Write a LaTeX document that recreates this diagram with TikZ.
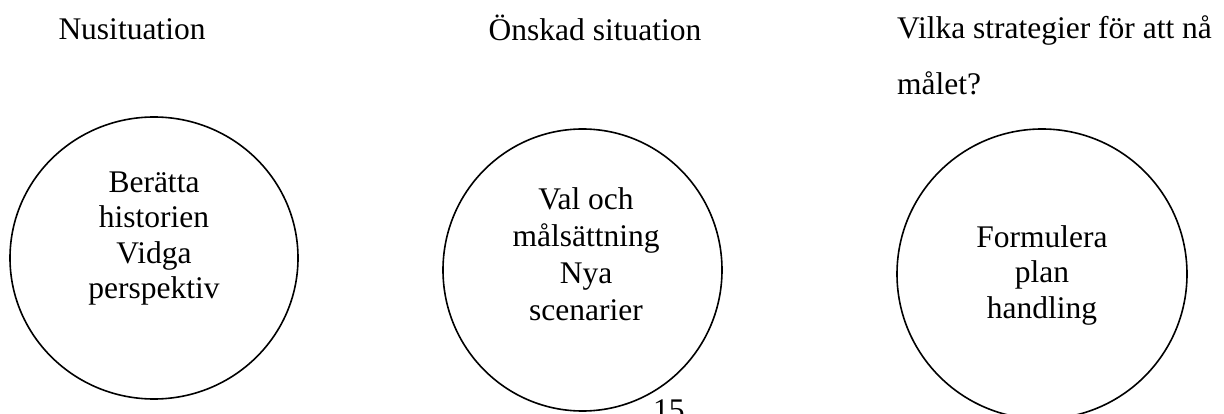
\documentclass[tikz,border=0pt]{standalone}
\usepackage{fontspec}
\setmainfont{Liberation Serif}
\usetikzlibrary{shapes.geometric}
\tikzset{
  ring/.style={draw, ellipse, line width=1.6pt, inner sep=0pt},
  txt/.style={inner sep=0pt, align=center, font=\fontsize{31.5}{35.5}\selectfont},
  head/.style={inner sep=0pt, font=\fontsize{31.5}{56}\selectfont},
}
\begin{document}
\begin{tikzpicture}[x=1pt, y=-1pt]
\useasboundingbox (0,0) rectangle (1224,414);
\node[ring, minimum width=288pt, minimum height=282pt] (c1) at (154,258) {};
\node[ring, minimum width=279pt, minimum height=282pt] (c2) at (582.5,270) {};
\node[ring, minimum width=290pt, minimum height=290pt] (c3) at (1042,274) {};
\node[head, anchor=base] (h1) at (132,40) {Nusituation};
\node[head, anchor=base] (h2) at (595,41) {Önskad situation};
\node[head, anchor=base west, align=left] (h3) at (897,95) {Vilka strategier för att nå\\målet?};
\node[txt, anchor=base] (t1) at (154,298.5) {Berätta\\historien\\Vidga\\perspektiv};
\node[txt, anchor=base, font=\fontsize{31.5}{37}\selectfont] (t2) at (586,320) {Val och\\målsättning\\Nya\\scenarier};
\node[txt, anchor=base] (t3) at (1042,318) {Formulera\\plan\\handling};
\node[head, anchor=base west] (pg) at (653,420) {15};
\end{tikzpicture}
\end{document}
